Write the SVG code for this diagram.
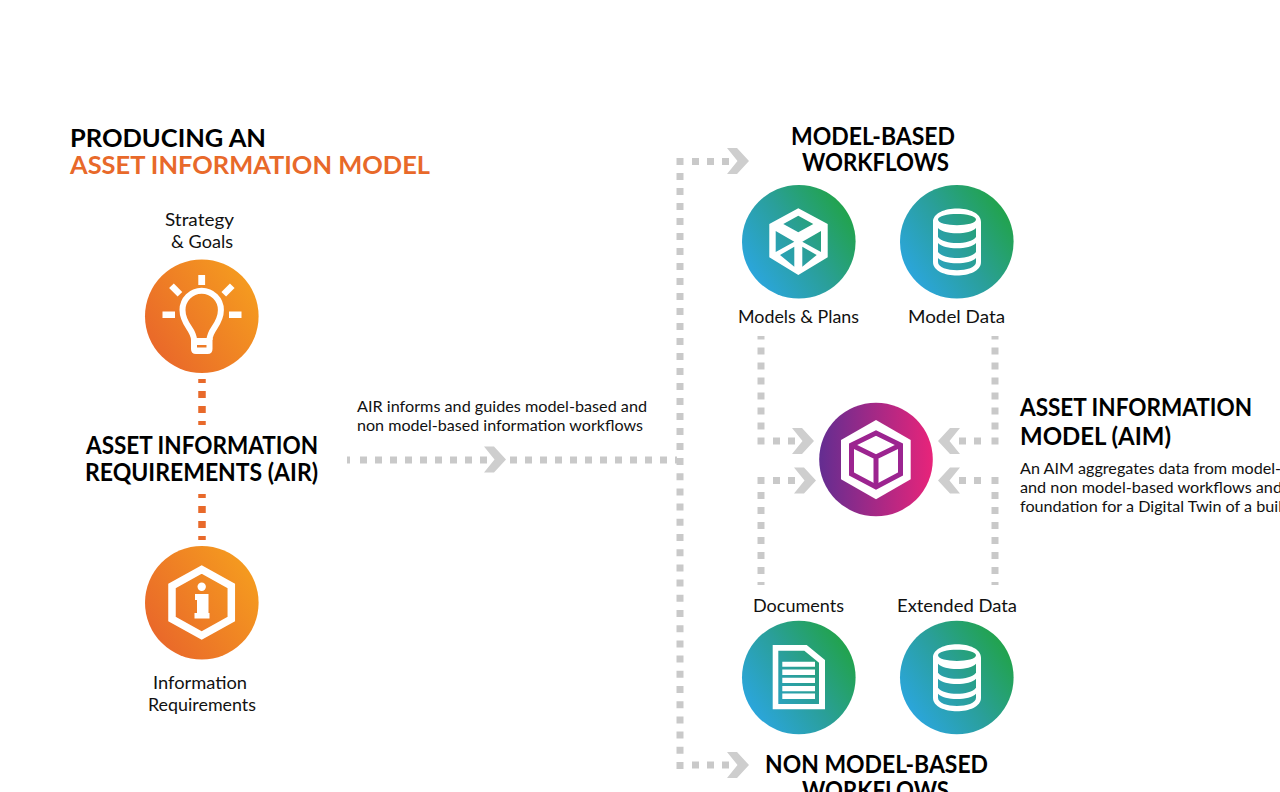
<svg xmlns="http://www.w3.org/2000/svg" width="1280" height="792" viewBox="0 0 1280 792">
<style>
text{font-family:"Lato","Open Sans",sans-serif;fill:#111;}
.h{font-size:25px;font-weight:700;fill:#000;}
.l{font-size:18px;}
.s{font-size:16px;}
.dash{fill:none;stroke:#c9c9c9;stroke-width:7;}
.odash{fill:none;stroke:#e8692a;stroke-width:7.5;}
.chev{fill:#cecece;}
.w{fill:#fff;}
</style>
<defs>
<linearGradient id="gTeal" x1="0.05" y1="0.8" x2="0.95" y2="0.2"><stop offset="0" stop-color="#2ba6e0"/><stop offset="0.5" stop-color="#2a9f9a"/><stop offset="1" stop-color="#21a347"/></linearGradient>
<linearGradient id="gOrange" x1="0.05" y1="0.8" x2="0.95" y2="0.2"><stop offset="0" stop-color="#e9672a"/><stop offset="1" stop-color="#f59c1f"/></linearGradient>
<linearGradient id="gPurple" x1="0" y1="0.5" x2="1" y2="0.5"><stop offset="0" stop-color="#632d91"/><stop offset="1" stop-color="#e8247a"/></linearGradient>
<polygon id="chevR" points="0,0 10,0 22,13 10,26 0,26 10.5,13"/>
<path id="db" fill-rule="evenodd" d="M933,222C933,204 981,204 981,222V262C981,280 933,280 933,262ZM938,219.5C938,212 976,212 976,219.5C976,227 938,227 938,219.5ZM938,228C944,235 970,235 976,228V237C970,245 944,245 938,237ZM938,243C944,250 970,250 976,243V252C970,260 944,260 938,252ZM938,258C944,265 970,265 976,258V262C976,273 938,273 938,262Z"/>
</defs>

<g id="connectors">
<path class="dash" stroke-dasharray="7 8" d="M680,158V458"/>
<path class="dash" stroke-dasharray="7 8.2" d="M680,458V769"/>
<path class="dash" stroke-dasharray="7 8" d="M692,161.500H729"/>
<path class="dash" stroke-dasharray="7 8" d="M692,765H729"/>
<path class="dash" stroke-dasharray="3 10" d="M347,460H350"/>
<path class="dash" stroke-dasharray="7 8" d="M360,460H487"/>
<path class="dash" stroke-dasharray="7 8" d="M510,460H677"/>
<use href="#chevR" class="chev" x="727" y="148"/>
<use href="#chevR" class="chev" x="727" y="752"/>
<use href="#chevR" class="chev" x="484" y="446.500"/>
<path class="dash" stroke-dasharray="7 8" d="M761,444.500V336"/>
<path class="dash" stroke-dasharray="7 8" d="M773,441H796"/>
<use href="#chevR" class="chev" x="792" y="428"/>
<path class="dash" stroke-dasharray="7 8" d="M761,477V585"/>
<path class="dash" stroke-dasharray="7 8" d="M773,480.500H797"/>
<use href="#chevR" class="chev" x="794" y="467.500"/>
<path class="dash" stroke-dasharray="7 8" d="M995,444.500V336"/>
<path class="dash" stroke-dasharray="7 8" d="M981,441H958"/>
<use href="#chevR" class="chev" transform="translate(960,428) scale(-1,1)"/>
<path class="dash" stroke-dasharray="7 8" d="M995,477V585"/>
<path class="dash" stroke-dasharray="7 8" d="M981,480.500H958"/>
<use href="#chevR" class="chev" transform="translate(960,467.500) scale(-1,1)"/>
<path class="odash" d="M202,379V383M202,391V398M202,406V413M202,421V425"/>
<path class="odash" d="M202,494V498M202,506V513M202,521V528M202,536V540"/>
</g>

<g id="title">
<text class="h" x="70" y="146.500" textLength="196" lengthAdjust="spacingAndGlyphs">PRODUCING AN</text>
<text class="h" x="70" y="173.500" textLength="360" lengthAdjust="spacingAndGlyphs" style="fill:#e8692a">ASSET INFORMATION MODEL</text>
</g>

<g id="strategy-goals">
<circle cx="201.800" cy="316.200" r="56.800" fill="url(#gOrange)"/>
<rect class="w" x="198.300" y="275" width="6.800" height="10"/>
<rect class="w" x="162.500" y="311.500" width="12.500" height="6.500"/>
<rect class="w" x="229" y="311.500" width="12.500" height="6.500"/>
<rect class="w" x="-6" y="-3.300" width="12" height="6.600" transform="translate(175.700,290) rotate(45)"/>
<rect class="w" x="-6" y="-3.300" width="12" height="6.600" transform="translate(228,290) rotate(-45)"/>
<path fill="none" stroke="#fff" stroke-width="6" d="M194,340C194,329 182.500,325 182.500,310A19.200,19.200 0 1 1 220.900,310C220.900,325 209.500,329 209.500,340"/>
<path class="w" fill-rule="evenodd" d="M191,338H212.500V349Q212.500,354 207.500,354H196Q191,354 191,349ZM197,345V347.500H206.500V345Z"/>
<text class="l" x="165" y="226" textLength="69" lengthAdjust="spacingAndGlyphs">Strategy</text>
<text class="l" x="171" y="248" textLength="62" lengthAdjust="spacingAndGlyphs">&amp; Goals</text>
</g>

<g id="air">
<text class="h" x="86" y="454" textLength="232" lengthAdjust="spacingAndGlyphs">ASSET INFORMATION</text>
<text class="h" x="85" y="481" textLength="233" lengthAdjust="spacingAndGlyphs">REQUIREMENTS (AIR)</text>
</g>

<g id="information-requirements">
<circle cx="201.800" cy="602.700" r="56.800" fill="url(#gOrange)"/>
<polygon fill="none" stroke="#fff" stroke-width="7.500" points="201.700,569.500 231.300,586 231.300,619 201.700,635.500 172,619 172,586"/>
<circle class="w" cx="201.700" cy="586.700" r="4.200"/>
<polygon class="w" points="195,594 208.500,594 208.500,613 209.500,613 209.500,618.500 194.500,618.500 194.500,613 197,613 197,600 195,600"/>
<text class="l" x="153" y="689" textLength="94" lengthAdjust="spacingAndGlyphs">Information</text>
<text class="l" x="148" y="711" textLength="108" lengthAdjust="spacingAndGlyphs">Requirements</text>
</g>

<g id="air-note">
<text class="s" x="357" y="412" textLength="290" lengthAdjust="spacingAndGlyphs">AIR informs and guides model-based and</text>
<text class="s" x="357" y="431" textLength="286" lengthAdjust="spacingAndGlyphs">non model-based information workflows</text>
</g>

<g id="model-based-title">
<text class="h" x="791" y="144.500" textLength="164" lengthAdjust="spacingAndGlyphs">MODEL-BASED</text>
<text class="h" x="802" y="171" textLength="147" lengthAdjust="spacingAndGlyphs">WORKFLOWS</text>
</g>

<g id="models-plans">
<circle cx="798.800" cy="241.800" r="56.800" fill="url(#gTeal)"/>
<path class="w" fill-rule="evenodd" d="M798.300,208.300L827.700,224V257.300L798.300,275L769.300,257.300V224ZM798.300,215.700L783.300,224L798.300,232.300L813.300,224ZM775.700,231V252L794.300,241.700ZM780,255L794.300,266.700V246.700ZM821,231L802.300,241.700L821,252ZM816.700,255L802.300,246.700V266.700Z"/>
<text class="l" x="738" y="323" textLength="121" lengthAdjust="spacingAndGlyphs">Models &amp; Plans</text>
</g>

<g id="model-data">
<circle cx="956.800" cy="241.800" r="56.800" fill="url(#gTeal)"/>
<use href="#db" class="w"/>
<text class="l" x="908" y="323" textLength="97" lengthAdjust="spacingAndGlyphs">Model Data</text>
</g>

<g id="aim">
<circle cx="876" cy="459.500" r="56.800" fill="url(#gPurple)"/>
<polygon class="w" points="876,420 910.700,440 910.700,479.300 876,499.300 841,479.300 841,440"/>
<polygon fill="none" stroke="#9c2490" stroke-width="5" points="876,433 900.500,445 900.500,474 876,487 851.500,474 851.500,445"/>
<path fill="none" stroke="#9c2490" stroke-width="5" d="M851.500,445L876,457L900.500,445M876,457V487"/>
<text class="h" x="1020" y="416" textLength="232" lengthAdjust="spacingAndGlyphs">ASSET INFORMATION</text>
<text class="h" x="1020" y="445" textLength="151" lengthAdjust="spacingAndGlyphs">MODEL (AIM)</text>
<text class="s" x="1020" y="474" textLength="261" lengthAdjust="spacingAndGlyphs">An AIM aggregates data from model-</text>
<text class="s" x="1020" y="493" textLength="262" lengthAdjust="spacingAndGlyphs">and non model-based workflows and</text>
<text class="s" x="1020" y="512" textLength="262" lengthAdjust="spacingAndGlyphs">foundation for a Digital Twin of a buil</text>
</g>

<g id="documents">
<circle cx="798.800" cy="677.500" r="56.800" fill="url(#gTeal)"/>
<path class="w" fill-rule="evenodd" d="M772.700,645H806.700L825,660V709.300H772.700ZM778.300,650.700V704H819V662.700L804.300,650.700Z"/>
<path class="w" d="M782.300,661.700H815V666.700H782.300ZM782.300,669.500H815V675H782.300ZM782.300,677.700H815V683H782.300ZM782.300,686H815V691.300H782.300ZM782.300,693.500H815V699H782.300Z"/>
<text class="l" x="753" y="612" textLength="91" lengthAdjust="spacingAndGlyphs">Documents</text>
</g>

<g id="extended-data">
<circle cx="956.800" cy="677.500" r="56.800" fill="url(#gTeal)"/>
<use href="#db" class="w" y="435.800"/>
<text class="l" x="897" y="612" textLength="120" lengthAdjust="spacingAndGlyphs">Extended Data</text>
</g>

<g id="non-model-based-title">
<text class="h" x="765" y="773" textLength="223" lengthAdjust="spacingAndGlyphs">NON MODEL-BASED</text>
<text class="h" x="802" y="799" textLength="147" lengthAdjust="spacingAndGlyphs">WORKFLOWS</text>
</g>
</svg>
